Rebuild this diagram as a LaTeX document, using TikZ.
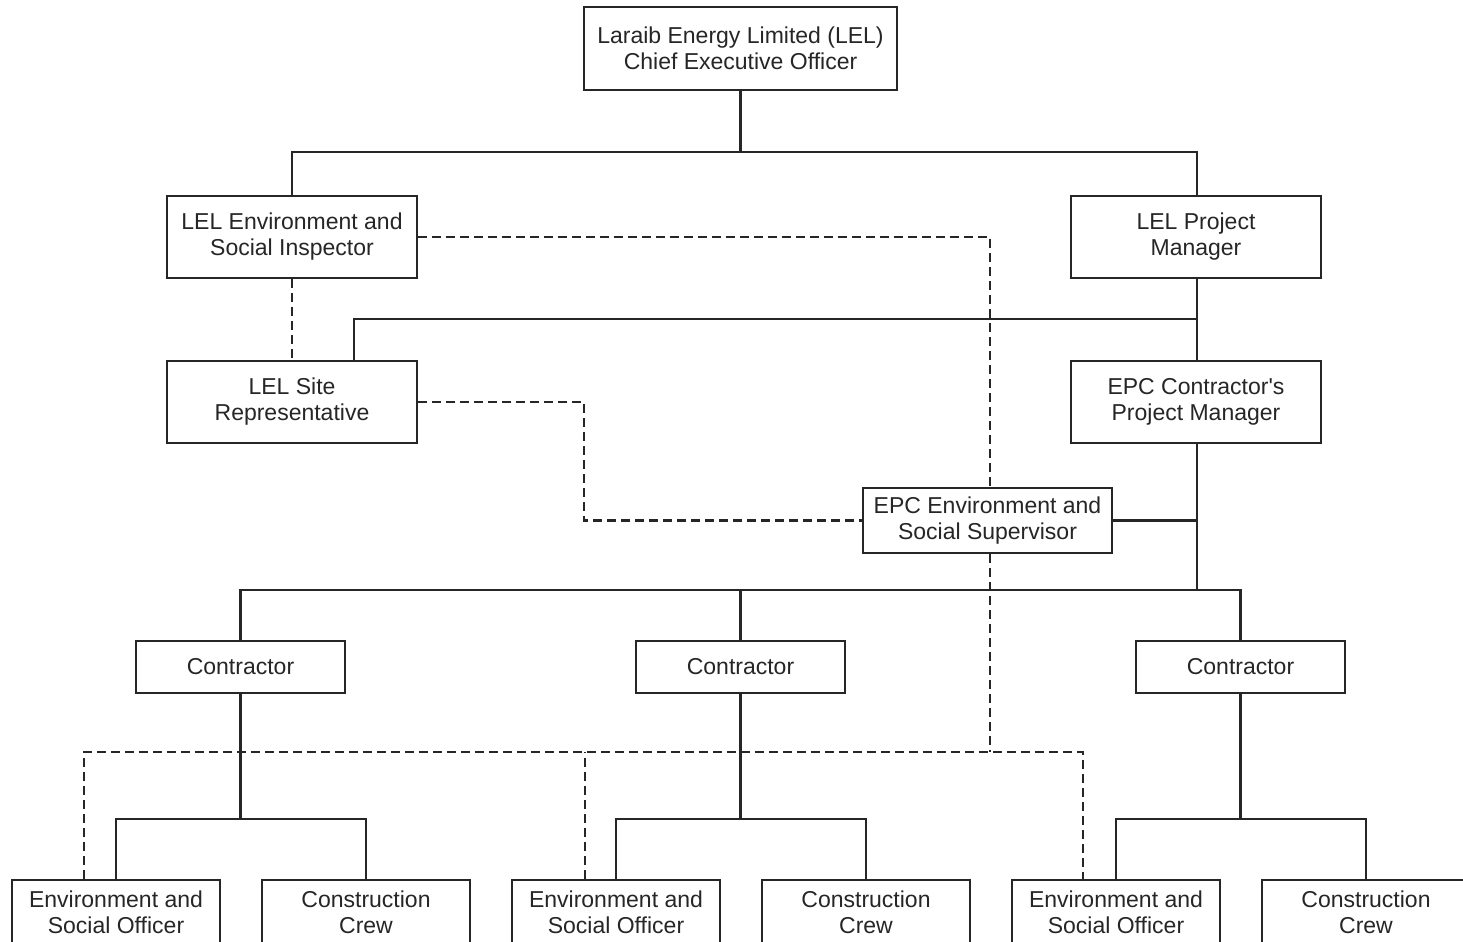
\documentclass[tikz,border=0pt]{standalone}
\usepackage{fontspec}
\setmainfont{Liberation Sans}
\definecolor{inkc}{HTML}{262626}
\tikzset{
  box/.style={draw=inkc, line width=0.9pt, fill=white, align=center, text=inkc,
    font=\fontsize{11.5}{13}\selectfont, inner sep=0pt},
  conn/.style={draw=inkc, line width=1.3pt},
  dconn/.style={draw=inkc, line width=1.3pt, dash pattern=on 4.5pt off 2.5pt},
}
\begin{document}
\begin{tikzpicture}[x=0.5pt,y=-0.5pt]
\useasboundingbox (0,0) rectangle (1463,942);
\clip (0,0) rectangle (1463,942);
\fill[white] (0,0) rectangle (1463,942);

% coordinates for junctions
\coordinate (b1) at (740.5,152);
\coordinate (b2) at (1197,319);
\coordinate (b3) at (1197,590);
\coordinate (d1) at (584,520.5);
\coordinate (dh) at (990,752);

% boxes
\path (740.5,48.5) node[box, minimum width=156.5pt, minimum height=41.5pt] (ceo) {Laraib Energy Limited (LEL)\\Chief Executive Officer};
\path (292,237) node[box, minimum width=125pt, minimum height=41pt] (insp) {LEL Environment and\\Social Inspector};
\path (1196,237) node[box, minimum width=125pt, minimum height=41pt] (pm) {LEL Project\\Manager};
\path (292,402) node[box, minimum width=125pt, minimum height=41pt] (site) {LEL Site\\Representative};
\path (1196,402) node[box, minimum width=125pt, minimum height=41pt] (epcpm) {EPC Contractor\textquotesingle s\\Project Manager};
\path (987.5,520.5) node[box, minimum width=124.5pt, minimum height=32.5pt] (sup) {EPC Environment and\\Social Supervisor};
\path (240.5,667) node[box, minimum width=104.5pt, minimum height=26pt] (con1) {Contractor};
\path (740.5,667) node[box, minimum width=104.5pt, minimum height=26pt] (con2) {Contractor};
\path (1240.5,667) node[box, minimum width=104.5pt, minimum height=26pt] (con3) {Contractor};
\path (116,912) node[box, minimum width=104pt, minimum height=32pt] (eso1) {Environment and\\Social Officer};
\path (366,912) node[box, minimum width=104pt, minimum height=32pt] (cc1) {Construction\\Crew};
\path (616,912) node[box, minimum width=104pt, minimum height=32pt] (eso2) {Environment and\\Social Officer};
\path (866,912) node[box, minimum width=104pt, minimum height=32pt] (cc2) {Construction\\Crew};
\path (1116,912) node[box, minimum width=104pt, minimum height=32pt] (eso3) {Environment and\\Social Officer};
\path (1366,912) node[box, minimum width=104pt, minimum height=32pt] (cc3) {Construction\\Crew};

% solid connectors
\draw[conn] (ceo.south) -- (b1);
\draw[conn] (insp.north) |- (b1) -| ([xshift=0.5pt]pm.north);
\draw[conn] ([xshift=0.5pt]pm.south) -- ([xshift=0.5pt]epcpm.north);
\draw[conn] ([xshift=31pt]site.north) |- (b2);
\draw[conn] ([xshift=0.5pt]epcpm.south) -- (b3);
\draw[conn] (sup.east) -- (sup.east -| b3);
\draw[conn] (con1.north) |- (b3) -| (con3.north);
\draw[conn] (con2.north) -- (con2.north |- b3);
\foreach \c/\e/\k in {con1/eso1/cc1, con2/eso2/cc2, con3/eso3/cc3}{
  \coordinate (j\c) at ([yshift=-62.5pt]\c.south);
  \draw[conn] (\c.south) -- (j\c);
  \draw[conn] (\e.north) |- (j\c) -| (\k.north);
}

% dashed connectors
\draw[dconn] (insp.east) -| ([xshift=1.25pt]sup.north);
\draw[dconn] (insp.south) -- (site.north);
\draw[dconn] (site.east) -| (d1) -- (sup.west);
\draw[dconn] ([xshift=1.25pt]sup.south) -- (dh);
\draw[dconn] ([xshift=-16pt]eso1.north) |- (dh) -| ([xshift=-16.5pt]eso3.north);
\draw[dconn] ([xshift=-15.5pt]eso2.north) -- ([xshift=-15.5pt]eso2.north |- dh);
\end{tikzpicture}
\end{document}
